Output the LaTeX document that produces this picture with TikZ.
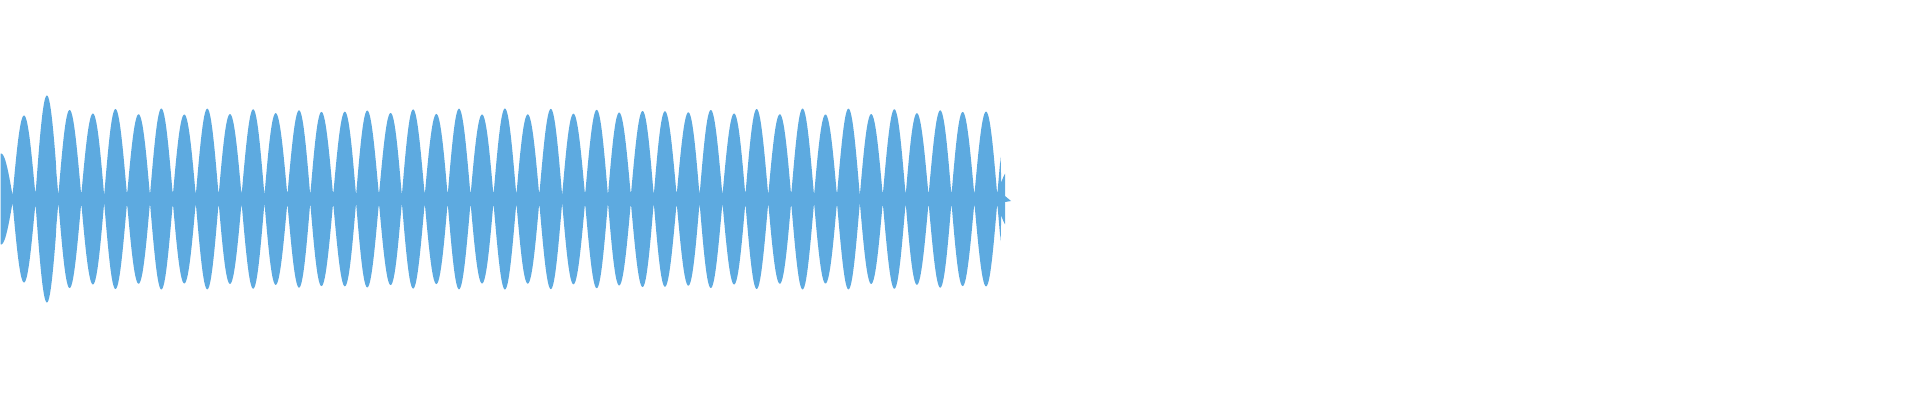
\documentclass[tikz,border=0pt]{standalone}
\definecolor{wave}{HTML}{5DAAE0}
\begin{document}
\begin{tikzpicture}[x=1pt,y=1pt,
  declare function={
    amp(\t)=(\t<13)*42+(\t>=13)*(\t<35)*80+(\t>=35)*(\t<56)*100+(\t>=56)*(\t<1001)*(84+3*sin(\t*7.3))+(\t>=1001)*25;
    env(\t)=amp(\t)*abs(sin(((\t-12.55)/22.9)*180))+3.5;
  }]
\useasboundingbox (0,0) rectangle (1920,400);
\fill[wave] plot[domain=0.5:1005,samples=1600] (\x,{201+env(\x)})
  -- (1005,198) -- (1011,199) -- (1005,204) --
  plot[domain=1005:0.5,samples=1600] (\x,{201-env(\x)}) -- cycle;
\end{tikzpicture}
\end{document}
